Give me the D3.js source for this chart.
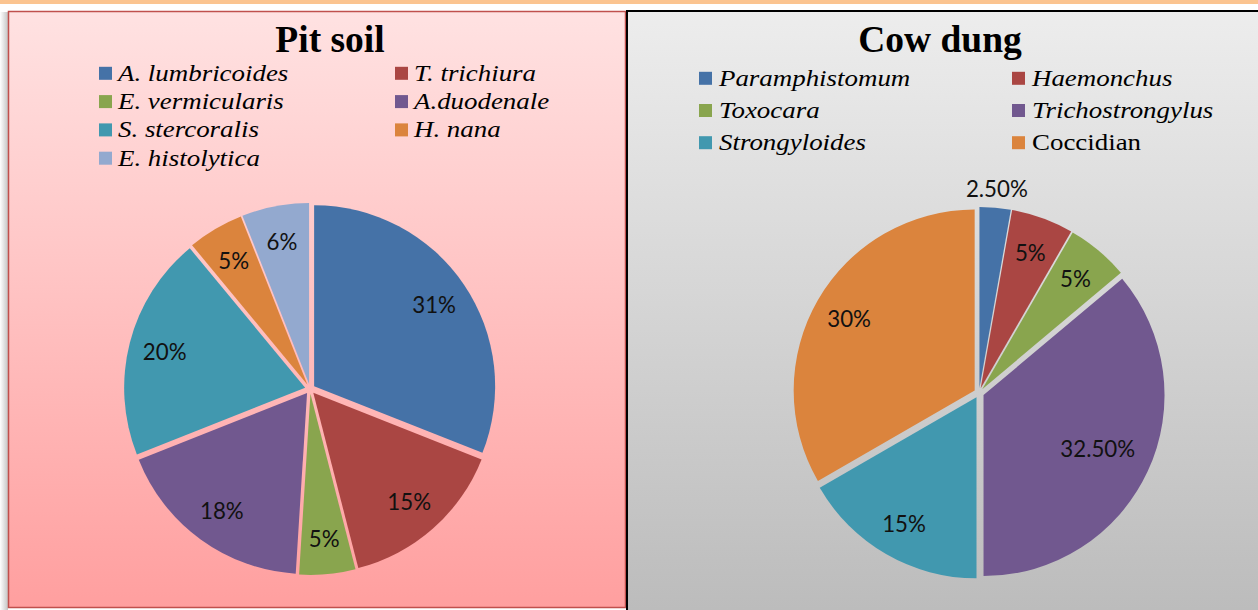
<!DOCTYPE html>
<html>
<head>
<meta charset="utf-8">
<script src="https://cdn.jsdelivr.net/npm/d3@7"></script>
<style>
  html, body { margin: 0; padding: 0; background: #ffffff; }
  svg { display: block; }
</style>
</head>
<body>
<svg id="chart" width="1258" height="610"></svg>
<script>
// Parasite prevalence by sample source
const pitCategories = ["A. lumbricoides", "T. trichiura", "E. vermicularis", "A.duodenale",
                       "S. stercoralis", "H. nana", "E. histolytica"];
const pitValues = [31, 15, 5, 18, 20, 5, 6];
const pitLabels = ["31%", "15%", "5%", "18%", "20%", "5%", "6%"];
const pitColors = ["#4572a7", "#aa4643", "#89a54e", "#71588f", "#4198af", "#db843d", "#93a9cf"];

const cowCategories = ["Paramphistomum", "Haemonchus", "Toxocara", "Trichostrongylus",
                       "Strongyloides", "Coccidian"];
const cowValues = [2.5, 5, 5, 32.5, 15, 30];
const cowLabels = ["2.50%", "5%", "5%", "32.50%", "15%", "30%"];
const cowColors = ["#4572a7", "#aa4643", "#89a54e", "#71588f", "#4198af", "#db843d"];
const cowItalic = [true, true, true, true, true, false];

const svg = d3.select("#chart");
const defs = svg.append("defs");

function vGradient(id, top, bottom) {
  const g = defs.append("linearGradient").attr("id", id)
    .attr("x1", 0).attr("y1", 0).attr("x2", 0).attr("y2", 1);
  g.append("stop").attr("offset", "0%").attr("stop-color", top);
  g.append("stop").attr("offset", "100%").attr("stop-color", bottom);
}
vGradient("pinkBg", "#ffe2e2", "#ff9f9f");
vGradient("greyBg", "#ededed", "#bbbbbb");
const sh = defs.append("linearGradient").attr("id", "shadow")
  .attr("x1", 0).attr("y1", 0).attr("x2", 1).attr("y2", 0);
sh.append("stop").attr("offset", "0%").attr("stop-color", "#ffffff");
sh.append("stop").attr("offset", "100%").attr("stop-color", "#c4c4c4");

// page decoration
svg.append("rect").attr("x", 0).attr("y", 0).attr("width", 1258).attr("height", 4).attr("fill", "#fbc490");
svg.append("rect").attr("x", 0).attr("y", 12).attr("width", 8).attr("height", 598).attr("fill", "url(#shadow)");

// panels
svg.append("rect").attr("x", 8.5).attr("y", 11.5).attr("width", 617).attr("height", 596)
  .attr("fill", "url(#pinkBg)").attr("stroke", "#c0504d").attr("stroke-width", 1.5);
svg.append("rect").attr("x", 627).attr("y", 11).attr("width", 640).attr("height", 610)
  .attr("fill", "url(#greyBg)").attr("stroke", "#000").attr("stroke-width", 2);

function drawPie(opts) {
  const g = svg.append("g");
  g.append("text").attr("x", opts.titleX).attr("y", 52)
    .attr("text-anchor", "middle")
    .style("font-family", "'Liberation Serif', 'Times New Roman', serif")
    .style("font-weight", "bold").style("font-size", "37.5px")
    .text(opts.title);

  // legend: two columns, filled in row order
  const leg = g.append("g");
  opts.categories.forEach((c, i) => {
    const col = i % 2, row = Math.floor(i / 2);
    const x = opts.legX[col], y = opts.legY + row * opts.legStep;
    leg.append("rect").attr("x", x).attr("y", y - 6.5).attr("width", 13).attr("height", 13)
      .attr("fill", opts.colors[i]);
    leg.append("text")
      .attr("transform", `translate(${x + opts.legGap},${y}) scale(1.17,1)`)
      .attr("dy", "0.33em")
      .style("font-family", "'Liberation Serif', 'Times New Roman', serif")
      .style("font-style", opts.italic[i] ? "italic" : "normal")
      .style("font-size", "23px")
      .text(c);
  });

  const pie = d3.pie().sort(null).value(d => d);
  const arcs = pie(opts.values);
  const r = opts.r, e = opts.explode;
  const arc = d3.arc().innerRadius(0).outerRadius(r);
  const pg = g.append("g").attr("transform", `translate(${opts.cx},${opts.cy})`);
  arcs.forEach((d, i) => {
    const mid = (d.startAngle + d.endAngle) / 2;
    const dx = Math.sin(mid) * e, dy = -Math.cos(mid) * e;
    pg.append("path").attr("d", arc(d))
      .attr("transform", `translate(${dx},${dy})`)
      .attr("fill", opts.colors[i]);
  });
  arcs.forEach((d, i) => {
    const mid = (d.startAngle + d.endAngle) / 2;
    const label = opts.labels[i];
    let lr = opts.labelR;
    if (d.value < 3) lr = r + 24;                     // too narrow: place outside
    else if (label.length > 4) lr = opts.labelR - 19; // wide label pulled inward
    pg.append("text")
      .attr("transform", `translate(${Math.sin(mid) * lr},${-Math.cos(mid) * lr}) scale(0.93,1)`)
      .attr("text-anchor", "middle").attr("dy", "0.36em")
      .style("font-family", "Lato, 'Open Sans', sans-serif")
      .style("font-size", "24px").attr("fill", "#111")
      .text(label);
  });
}

drawPie({
  title: "Pit soil", titleX: 330,
  categories: pitCategories, values: pitValues, labels: pitLabels, colors: pitColors,
  italic: pitCategories.map(() => true),
  legX: [99, 395], legY: 73.3, legStep: 28.3, legGap: 19,
  cx: 310, cy: 389, r: 181, explode: 5, labelR: 150
});

drawPie({
  title: "Cow dung", titleX: 940,
  categories: cowCategories, values: cowValues, labels: cowLabels, colors: cowColors,
  italic: cowItalic,
  legX: [699, 1012], legY: 78.3, legStep: 32.2, legGap: 20,
  cx: 979, cy: 393, r: 181, explode: 5, labelR: 150
});
</script>
</body>
</html>
